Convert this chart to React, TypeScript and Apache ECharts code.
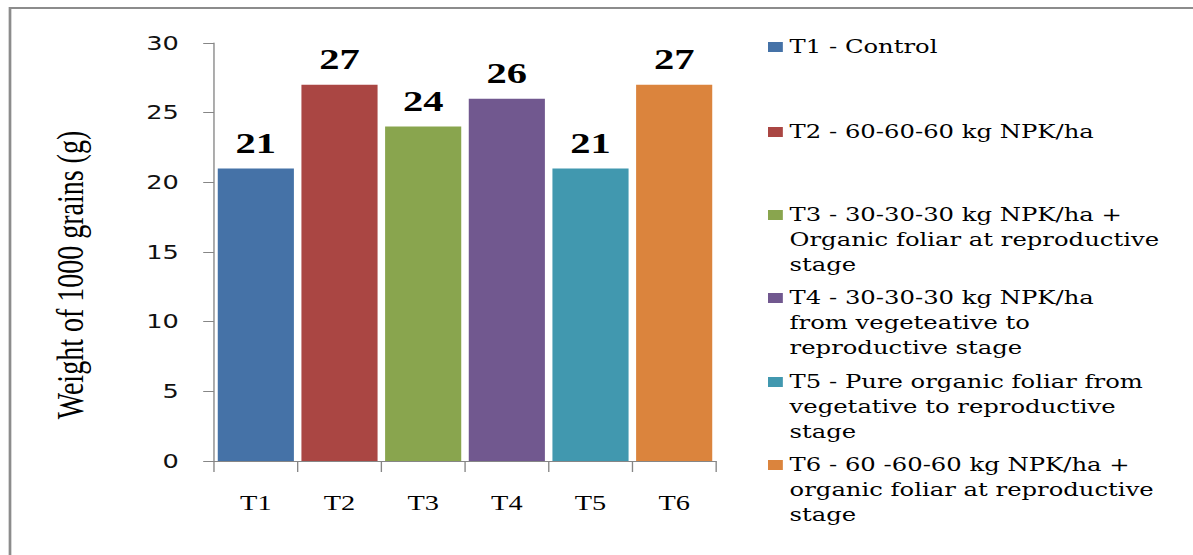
import React, { useEffect, useRef } from "react";
import * as echarts from "echarts";

// ---- data ----
const categories = ["T1", "T2", "T3", "T4", "T5", "T6"];
const values = [21, 27, 24, 26, 21, 27];
const colors = ["#4572A7", "#AA4643", "#89A54E", "#71588F", "#4198AF", "#DB843D"];
const legendLines = [
  ["T1 - Control"],
  ["T2 - 60-60-60 kg NPK/ha"],
  ["T3 - 30-30-30 kg NPK/ha +", "Organic foliar at reproductive", "stage"],
  ["T4 - 30-30-30 kg NPK/ha", "from vegeteative to", "reproductive stage"],
  ["T5 - Pure organic foliar from", "vegetative to reproductive", "stage"],
  ["T6 - 60 -60-60 kg NPK/ha +", "organic foliar at reproductive", "stage"],
];
const seriesNames = legendLines.map((l) => l.join(" "));
const yTitle = "Weight of 1000 grains (g)";

// ---- layout ----
const S = 1.35; // horizontal stretch of the reference
const W = 1193 / S;
const H = 555;
const legendIconTops = [42, 127, 210, 293, 377, 460];
const LINE_H = 25;
const SERIF = '"Liberation Serif", "Times New Roman", serif';
const LEGEND_FONT = '"DejaVu Serif", serif';

export default function App() {
  const ref = useRef<HTMLDivElement>(null);
  useEffect(() => {
    if (!ref.current) return;
    const chart = echarts.init(ref.current, undefined, { renderer: "svg" });
    const option: any = {
      animation: false,
      backgroundColor: "#ffffff",
      grid: { left: 214 / S, top: 43, width: 502 / S, height: 418 },
      xAxis: {
        type: "category",
        data: categories,
        axisLine: { lineStyle: { color: "#868686", width: 1 } },
        axisTick: { show: true, length: 11, lineStyle: { color: "#868686" } },
        axisLabel: {
          margin: 31,
          fontFamily: SERIF,
          fontSize: 21,
          color: "#000",
        },
      },
      yAxis: {
        type: "value",
        min: 0,
        max: 30,
        interval: 5,
        splitLine: { show: false },
        axisLine: { show: true, lineStyle: { color: "#868686", width: 1 } },
        axisTick: { show: true, length: 8, lineStyle: { color: "#868686" } },
        axisLabel: {
          margin: 26,
          fontFamily: '"DejaVu Sans", Verdana, sans-serif',
          fontSize: 19,
          color: "#111",
        },
      },
      legend: legendLines.map((lines, i) => {
        // leading blank lines keep the first line level with the marker
        const blank = lines.length - 1;
        const total = lines.length + blank;
        return {
          data: [seriesNames[i]],
          orient: "vertical",
          left: 768 / S,
          top: legendIconTops[i] + 5 - (total * LINE_H) / 2,
          padding: 0,
          itemWidth: 11,
          itemHeight: 10,
          icon: "rect",
          selectedMode: false,
          formatter: () => "\n".repeat(blank) + lines.join("\n"),
          textStyle: {
            fontFamily: LEGEND_FONT,
            fontSize: 18,
            lineHeight: LINE_H,
            color: "#000",
          },
        };
      }),
      graphic: [
        {
          type: "polyline",
          z: -1,
          shape: { points: [[10 / S, H], [10 / S, 8], [W, 8]] },
          style: { stroke: "#8c8c8c", lineWidth: 2, fill: null },
        },
        {
          type: "text",
          x: 70 / S,
          y: 275,
          rotation: Math.PI / 2,
          style: {
            text: yTitle,
            fontFamily: SERIF,
            fontSize: 28,
            fill: "#000",
            align: "center",
            verticalAlign: "middle",
          },
        },
      ],
      series: values.map((v, i) => ({
        type: "bar",
        name: seriesNames[i],
        stack: "all",
        barCategoryGap: "9%",
        data: values.map((val, j) => (j === i ? val : "-")),
        itemStyle: { color: colors[i] },
        label: {
          show: true,
          position: "top",
          distance: 11,
          fontFamily: SERIF,
          fontWeight: "bold",
          fontSize: 30,
          color: "#000",
        },
      })),
    };
    chart.setOption(option);
    return () => chart.dispose();
  }, []);
  return (
    <div
      style={{
        position: "fixed",
        left: 0,
        top: 0,
        width: 1193,
        height: H,
        overflow: "hidden",
        background: "#fff",
      }}
    >
      <div
        ref={ref}
        style={{
          width: W,
          height: H,
          transform: `scaleX(${S})`,
          transformOrigin: "0 0",
        }}
      />
    </div>
  );
}
